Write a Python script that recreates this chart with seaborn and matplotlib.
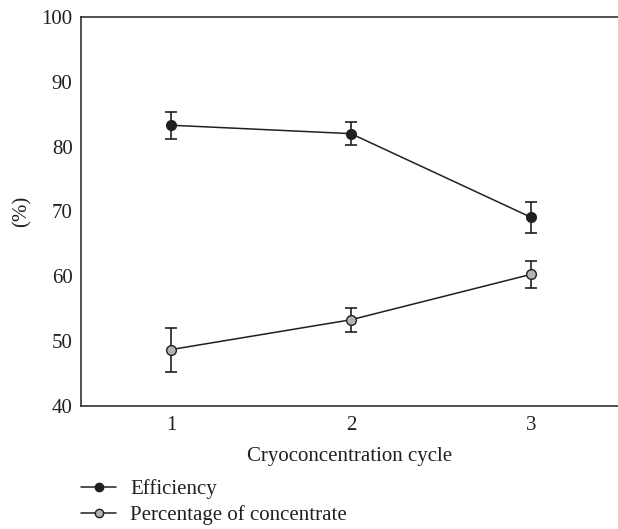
import matplotlib
matplotlib.use("Agg")
import matplotlib.pyplot as plt
import seaborn as sns
import pandas as pd
from matplotlib.lines import Line2D

cycles = [1, 2, 3]
efficiency = [83.3, 82.0, 69.1]
efficiency_err = [2.1, 1.8, 2.35]
concentrate = [48.7, 53.3, 60.3]
concentrate_err = [3.4, 1.85, 2.1]
series_names = ["Efficiency", "Percentage of concentrate"]
y_ticks = [40, 50, 60, 70, 80, 90, 100]

sns.set_theme(style="white")
plt.rcParams['font.family'] = ['Liberation Serif', 'DejaVu Serif']

dark = "#231f20"
gray = "#b3b3b3"

df = pd.DataFrame({
    "cycle": cycles * 2,
    "value": efficiency + concentrate,
    "err": efficiency_err + concentrate_err,
    "series": [series_names[0]] * 3 + [series_names[1]] * 3,
})

fig = plt.figure(figsize=(6.18, 5.29), dpi=100)
ax = fig.add_axes([0.131, 0.2325, 0.869, 0.7355])

fills = {series_names[0]: dark, series_names[1]: gray}
for name in series_names:
    sub = df[df["series"] == name]
    ax.errorbar(sub["cycle"], sub["value"], yerr=sub["err"], fmt="none",
                ecolor=dark, elinewidth=1.2, capsize=4.3, capthick=1.2, zorder=2)
    sns.lineplot(data=sub, x="cycle", y="value", ax=ax, color=dark, lw=1.1,
                 marker="o", markersize=7, markerfacecolor=fills[name],
                 markeredgecolor=dark, markeredgewidth=1.0, zorder=3, legend=False)

ax.set_xlim(0.5, 3.483)
ax.set_ylim(40, 100)
ax.set_xticks(cycles)
ax.set_xticklabels([str(c) for c in cycles])
ax.set_yticks(y_ticks)
ax.set_xlabel("Cryoconcentration cycle", fontsize=15, color=dark, labelpad=9)
ax.set_ylabel("(%)", fontsize=15, color=dark, labelpad=7)
ax.tick_params(axis="both", direction="in", length=5, width=1, colors=dark,
               labelsize=15)
ax.tick_params(axis="x", pad=7)
ax.tick_params(axis="y", pad=6)
for s in ["left", "bottom", "top"]:
    ax.spines[s].set_color(dark)
    ax.spines[s].set_linewidth(1.1)
ax.spines["right"].set_visible(False)

handles = [Line2D([], [], color=dark, lw=1.1, marker="o", markersize=6,
                  markerfacecolor=fills[n], markeredgecolor=dark) for n in series_names]
fig.legend(handles, series_names, loc="upper left", bbox_to_anchor=(0.131, 0.094),
           frameon=False, fontsize=15, handlelength=1.7, handletextpad=0.67,
           labelspacing=0.3, borderaxespad=0, borderpad=0, labelcolor=dark)

fig.savefig("out.png", dpi=100)
